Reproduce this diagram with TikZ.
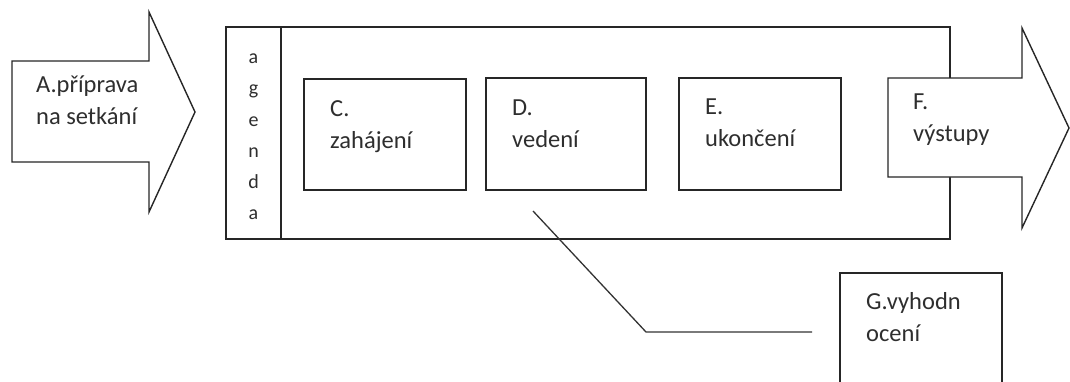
\documentclass[tikz,border=0pt]{standalone}
\usepackage{fontspec}
\setmainfont{Carlito}
\begin{document}
\begin{tikzpicture}[x=1pt,y=-1pt,
  outline/.style={draw=black!85, line width=1.4pt, fill=white, line join=miter},
  boxnode/.style={outline, inner sep=0pt},
  lbl/.style={anchor=base west, inner sep=0pt, align=left, text=black!82, font=\fontsize{24.5}{31.5}\selectfont},
  conn/.style={draw=black!80, line width=1.3pt}]
\useasboundingbox (0,0) rectangle (1070,381);
\clip (0,0) rectangle (1070,381);
% A arrow
\draw[outline] (12,61) -- (149,61) -- (149,12) -- (195,112) -- (149,212) -- (149,162) -- (12,162) -- cycle;
\node[lbl] (A) at (36,124) {A.příprava\\na setkání};
% main frame
\node[boxnode, minimum width=724pt, minimum height=212pt] (main) at (588,133) {};
\node[boxnode, minimum width=55pt, minimum height=212pt] (agenda) at (253.5,133) {};
\node[inner sep=0pt, align=center, text=black!82, font=\fontsize{20}{31.2}\selectfont]
      (agendatext) at (253.5,137) {a\\g\\e\\n\\d\\a};
% C, D, E boxes
\node[boxnode, minimum width=162pt, minimum height=111pt] (C) at (385,134.5) {};
\node[boxnode, minimum width=160pt, minimum height=112pt] (D) at (566,134) {};
\node[boxnode, minimum width=162pt, minimum height=112pt] (E) at (760,134) {};
\node[lbl] (Ct) at (330,148) {C.\\zahájení};
\node[lbl] (Dt) at (512,147) {D.\\vedení};
\node[lbl] (Et) at (705,146) {E.\\ukončení};
% F arrow
\draw[outline] (888,78) -- (1022,78) -- (1022,28) -- (1069,128) -- (1022,228) -- (1022,177) -- (888,177) -- cycle;
\node[lbl] (Ft) at (913,141) {F.\\výstupy};
% G box
\node[boxnode, minimum width=162pt, minimum height=120pt] (G) at (921,333) {};
\node[lbl] (Gt) at (866,341) {G.vyhodn\\ocení};
% connector
\coordinate (p1) at (533,211);
\coordinate (p2) at (646,332);
\coordinate (p3) at (812,332);
\draw[conn] (p1) -- (p2) -- (p3);
\end{tikzpicture}
\end{document}
